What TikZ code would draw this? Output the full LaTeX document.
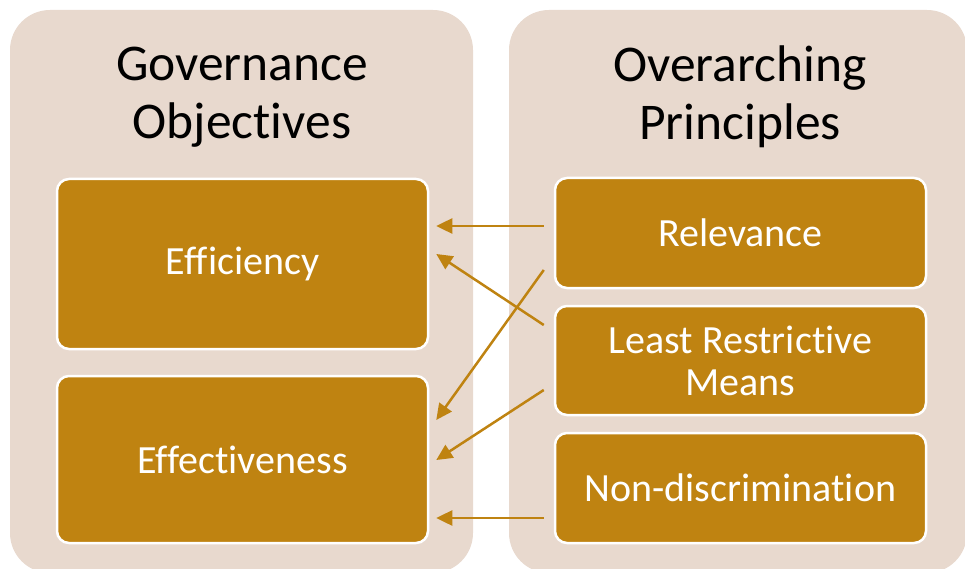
\documentclass[tikz,border=0pt]{standalone}
\usepackage{fontspec}
\setmainfont{Carlito}[Ligatures={NoCommon}, RawFeature={-liga;-clig}]
\usetikzlibrary{calc}
\usetikzlibrary{arrows.meta}
\definecolor{panelbg}{RGB}{232,217,206}
\definecolor{gold}{RGB}{191,131,17}

\begin{document}
\begin{tikzpicture}[x=1pt, y=-1pt,
  panel/.style={rectangle, rounded corners=40pt, fill=panelbg, inner sep=0},
  heading/.style={align=center, font=\fontsize{51.5}{58}\selectfont, text=black},
  item/.style={rectangle, rounded corners=12pt, fill=gold, draw=white, line width=2.5pt,
    minimum width=371pt, align=center, text=white, font=\fontsize{40}{42}\selectfont},
  link/.style={gold, line width=2.5pt, -{Triangle[length=16pt,width=15pt]}}]
\useasboundingbox (0,0) rectangle (965,569);
\clip (0,0) rectangle (965,569);
% two columns
\node[panel, minimum width=463pt, minimum height=563pt] (gov) at (241.5,291.5) {};
\node[panel, minimum width=458pt, minimum height=563pt] (ovr) at (738,291.5) {};
\node[heading] (govT) at (242,97) {Governance\\Objectives};
\node[heading] (ovrT) at (740,97) {Overarching\\Principles};
% objectives
\node[item, minimum height=170pt] (eff) at (242.5,264) {Efficiency};
\node[item, minimum height=167pt] (effv) at (242.5,459.5) {Effectiveness};
% principles
\node[item, minimum height=110pt] (rel) at (740.5,233) {Relevance};
\node[item, minimum height=109pt] (lrm) at (740.5,360.5) {Least Restrictive\\Means};
\node[item, minimum height=110pt] (nond) at (740.5,488) {Non-discrimination};
\foreach \s/\sy/\t/\ty in {rel/-7/eff/-38, lrm/-35.5/eff/-10, rel/37/effv/-39.5,
  lrm/29.5/effv/0.5, nond/30/effv/58.5}
  \draw[link] ($(\s.west)+(-10,\sy)$) -- ($(\t.east)+(7,\ty)$);
\end{tikzpicture}
\end{document}
